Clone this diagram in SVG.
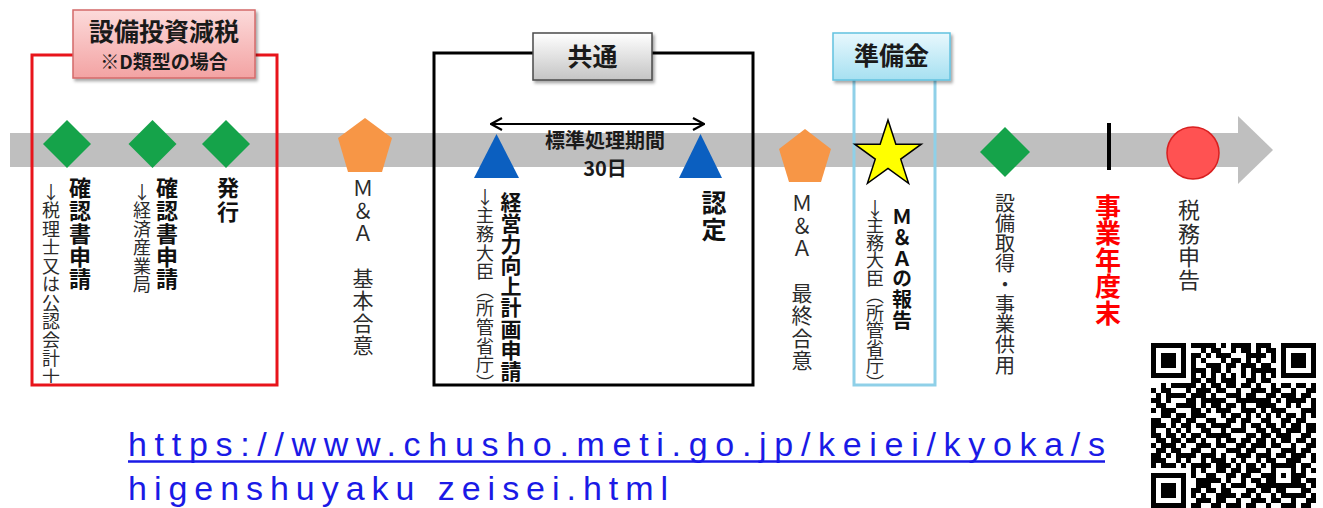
<svg xmlns="http://www.w3.org/2000/svg" width="1323" height="508" viewBox="0 0 1323 508">
<style>
text { font-family: "Noto Sans CJK JP", "Noto Sans", sans-serif; }
.v { writing-mode: vertical-rl; text-orientation: mixed; }
.u { text-orientation: upright; }
.r { font-weight: 400; fill: #2b2b2b; }
.b { font-weight: 700; fill: #111; }
.h { font-weight: 700; fill: #1a1a1a; text-anchor: middle; }
.dia { fill: #15a34a; }
.pent { fill: #f79646; }
.tri { fill: #0b5fc0; }
.url { font-family: "Liberation Sans", Arial, sans-serif; font-size: 34px; fill: #1a1ae6; }
</style>
<defs>
<linearGradient id="gRed" x1="0" y1="0" x2="0" y2="1"><stop offset="0" stop-color="#fcdada"/><stop offset="1" stop-color="#f3a3a3"/></linearGradient>
<linearGradient id="gGray" x1="0" y1="0" x2="0" y2="1"><stop offset="0" stop-color="#ffffff"/><stop offset="1" stop-color="#c4c4c4"/></linearGradient>
<linearGradient id="gBlue" x1="0" y1="0" x2="0" y2="1"><stop offset="0" stop-color="#e8f8fd"/><stop offset="1" stop-color="#a6e0f1"/></linearGradient>
<filter id="sh" x="-10%" y="-10%" width="130%" height="140%"><feDropShadow dx="2" dy="2.5" stdDeviation="1.5" flood-opacity="0.35"/></filter>
<marker id="chev" viewBox="0 0 13 14" refX="12" refY="7" markerWidth="13" markerHeight="14" markerUnits="userSpaceOnUse" orient="auto-start-reverse"><path d="M1 1 L12 7 L1 13" fill="none" stroke="#000" stroke-width="2.2"/></marker>
<clipPath id="clipRed"><rect x="0" y="0" width="300" height="383"/></clipPath>
<pattern id="qrA" patternUnits="userSpaceOnUse" x="1151" y="343" width="55" height="55"><path d="M0 0h10v5h-10z M15 0h5v5h-5z M30 0h15v5h-15z M50 0h5v5h-5z M5 5h10v5h-10z M25 5h5v5h-5z M35 5h5v5h-5z M50 5h5v5h-5z M0 10h5v5h-5z M10 10h15v5h-15z M40 10h10v5h-10z M15 15h5v5h-5z M25 15h10v5h-10z M40 15h5v5h-5z M50 15h5v5h-5z M0 20h10v5h-10z M20 20h10v5h-10z M35 20h10v5h-10z M5 25h10v5h-10z M20 25h5v5h-5z M35 25h5v5h-5z M45 25h10v5h-10z M0 30h5v5h-5z M15 30h5v5h-5z M25 30h15v5h-15z M50 30h5v5h-5z M0 35h10v5h-10z M15 35h10v5h-10z M40 35h10v5h-10z M10 40h5v5h-5z M20 40h10v5h-10z M35 40h10v5h-10z M50 40h5v5h-5z M0 45h5v5h-5z M10 45h10v5h-10z M30 45h5v5h-5z M45 45h10v5h-10z M5 50h5v5h-5z M20 50h15v5h-15z M40 50h10v5h-10z" fill="#000"/></pattern>
<pattern id="qrB" patternUnits="userSpaceOnUse" x="1151" y="343" width="35" height="35"><path d="M10 0h5v5h-5z M25 5h5v5h-5z M0 10h5v5h-5z M15 15h5v5h-5z M30 20h5v5h-5z M5 25h5v5h-5z M20 30h5v5h-5z" fill="#000"/></pattern>
<g id="finder"><rect x="2.5" y="2.5" width="30" height="30" fill="#fff" stroke="#000" stroke-width="5"/><rect x="10" y="10" width="15" height="15" fill="#000"/></g>
</defs>
<rect width="1323" height="508" fill="#fff"/>

<g id="timeline">
<rect x="10" y="133" width="1229" height="34" fill="#bfbfbf"/>
<polygon points="1238,116 1273,150 1238,184" fill="#bfbfbf"/>
</g>

<g id="frame-setsubi">
<rect x="32" y="55" width="245" height="330" fill="none" stroke="#e8141b" stroke-width="3"/>
<rect x="73" y="10" width="182" height="68" fill="url(#gRed)" stroke="#d46a6a" stroke-width="1.5" filter="url(#sh)"/>
<text class="h" x="164" y="41" font-size="25">設備投資減税</text>
<text class="h" x="164" y="68.5" font-size="19">※D類型の場合</text>
</g>

<g id="frame-kyotsu">
<rect x="434" y="53" width="319" height="332" fill="none" stroke="#000" stroke-width="3"/>
<rect x="533" y="33" width="119" height="47" fill="url(#gGray)" stroke="#4a4a4a" stroke-width="1.5" filter="url(#sh)"/>
<text class="h" x="592.5" y="65.5" font-size="25">共通</text>
</g>

<g id="frame-junbikin">
<rect x="854" y="60" width="81" height="325" fill="none" stroke="#8fd0e8" stroke-width="3"/>
<rect x="833" y="33" width="117" height="47" fill="url(#gBlue)" stroke="#62c2df" stroke-width="1.5" filter="url(#sh)"/>
<text class="h" x="891.5" y="65" font-size="25">準備金</text>
</g>

<g id="connectors">
<line x1="491" y1="124" x2="704" y2="124" stroke="#000" stroke-width="2.2" marker-start="url(#chev)" marker-end="url(#chev)"/>
</g>

<g id="n-kakunin-zeirishi">
<polygon class="dia" points="67,120 91,144 67,168 43,144"/>
<text class="v u r" x="51" y="183" font-size="18" letter-spacing="0.5" clip-path="url(#clipRed)">↓税理士又は公認会計士</text>
<text class="v b" x="80" y="177" font-size="22" letter-spacing="0.75">確認書申請</text>
</g>

<g id="n-kakunin-meti">
<polygon class="dia" points="152.5,120 176.5,144 152.5,168 128.5,144"/>
<text class="v u r" x="142" y="183" font-size="18" letter-spacing="0.5">↓経済産業局</text>
<text class="v b" x="167" y="177" font-size="22" letter-spacing="0.75">確認書申請</text>
</g>

<g id="n-hakko">
<polygon class="dia" points="226,120 250,144 226,168 202,144"/>
<text class="v b" x="228" y="177" font-size="22" letter-spacing="2">発行</text>
</g>

<g id="n-ma-kihon">
<polygon class="pent" points="365,118 392,138 382,172 348,172 338,138"/>
<text class="v r" x="363" y="177.5" font-size="21" letter-spacing="1.5">Ｍ＆Ａ　基本合意</text>
</g>

<g id="n-keiei">
<polygon class="tri" points="496.5,134 519,178 474,178"/>
<text class="v u r" x="485" y="188" font-size="18" letter-spacing="0.6">↓主務大臣（所管省庁）</text>
<text class="v b" x="511" y="191.5" font-size="21" letter-spacing="0.1">経営力向上計画申請</text>
</g>

<g id="period-label">
<text class="h" x="605" y="148" font-size="20">標準処理期間</text>
<text class="h" x="605" y="176" font-size="20">30日</text>
</g>

<g id="n-nintei">
<polygon class="tri" points="700.5,134 722,178 679,178"/>
<text class="v b" x="714" y="189.5" font-size="25" letter-spacing="2">認定</text>
</g>

<g id="n-ma-saishu">
<polygon class="pent" points="805,129 831,149 821,182 789,182 779,149"/>
<text class="v r" x="802" y="192.5" font-size="21" letter-spacing="1.5">Ｍ＆Ａ　最終合意</text>
</g>

<g id="n-ma-hokoku">
<polygon points="888,120 895.86,144.18 921.29,144.18 900.72,159.13 908.57,183.32 888,168.37 867.43,183.32 875.28,159.13 854.71,144.18 880.14,144.18" fill="#ffff00" stroke="#000" stroke-width="1.5" stroke-linejoin="miter"/>
<text class="v u r" x="875" y="199" font-size="18" letter-spacing="-0.5">↓主務大臣（所管省庁）</text>
<text class="v b" x="902" y="207" font-size="20" letter-spacing="0.6">Ｍ＆Ａの報告</text>
</g>

<g id="n-setsubi">
<polygon class="dia" points="1005,127 1030,152 1005,177 980,152"/>
<text class="v r" x="1005" y="193" font-size="20" letter-spacing="0.25">設備取得・事業供用</text>
</g>

<g id="n-nendomatsu">
<rect x="1107" y="123" width="4" height="47" fill="#000"/>
<text class="v" x="1108" y="194" font-size="26" letter-spacing="0.5" font-weight="700" fill="#ff0000">事業年度末</text>
</g>

<g id="n-zeimu">
<circle cx="1193" cy="153" r="26" fill="#ff5252" stroke="#d92020" stroke-width="1.5"/>
<text class="v r" x="1189" y="199" font-size="22" letter-spacing="1.3">税務申告</text>
</g>

<g id="url">
<text class="url" x="128" y="456" textLength="977" lengthAdjust="spacing">https://www.chusho.meti.go.jp/keiei/kyoka/s</text>
<line x1="128" y1="461.5" x2="1105" y2="461.5" stroke="#1a1ae6" stroke-width="2.5"/>
<text class="url" x="128" y="500" textLength="540" lengthAdjust="spacing">higenshuyaku zeisei.html</text>
</g>

<g id="qr">
<rect x="1151" y="343" width="165" height="165" fill="url(#qrA)"/>
<rect x="1151" y="343" width="165" height="165" fill="url(#qrB)"/>
<rect x="1151" y="343" width="40" height="40" fill="#fff"/>
<rect x="1276" y="343" width="40" height="40" fill="#fff"/>
<rect x="1151" y="468" width="40" height="40" fill="#fff"/>
<use href="#finder" x="1151" y="343"/>
<use href="#finder" x="1281" y="343"/>
<use href="#finder" x="1151" y="473"/>
<line x1="1191" y1="375.5" x2="1276" y2="375.5" stroke="#fff" stroke-width="5"/>
<line x1="1191" y1="375.5" x2="1276" y2="375.5" stroke="#000" stroke-width="5" stroke-dasharray="5 5"/>
<line x1="1183.5" y1="383" x2="1183.5" y2="468" stroke="#fff" stroke-width="5"/>
<line x1="1183.5" y1="383" x2="1183.5" y2="468" stroke="#000" stroke-width="5" stroke-dasharray="5 5"/>
<rect x="1273.5" y="465.5" width="20" height="20" fill="#fff" stroke="#000" stroke-width="5"/>
<rect x="1281" y="473" width="5" height="5" fill="#000"/>
</g>
</svg>
